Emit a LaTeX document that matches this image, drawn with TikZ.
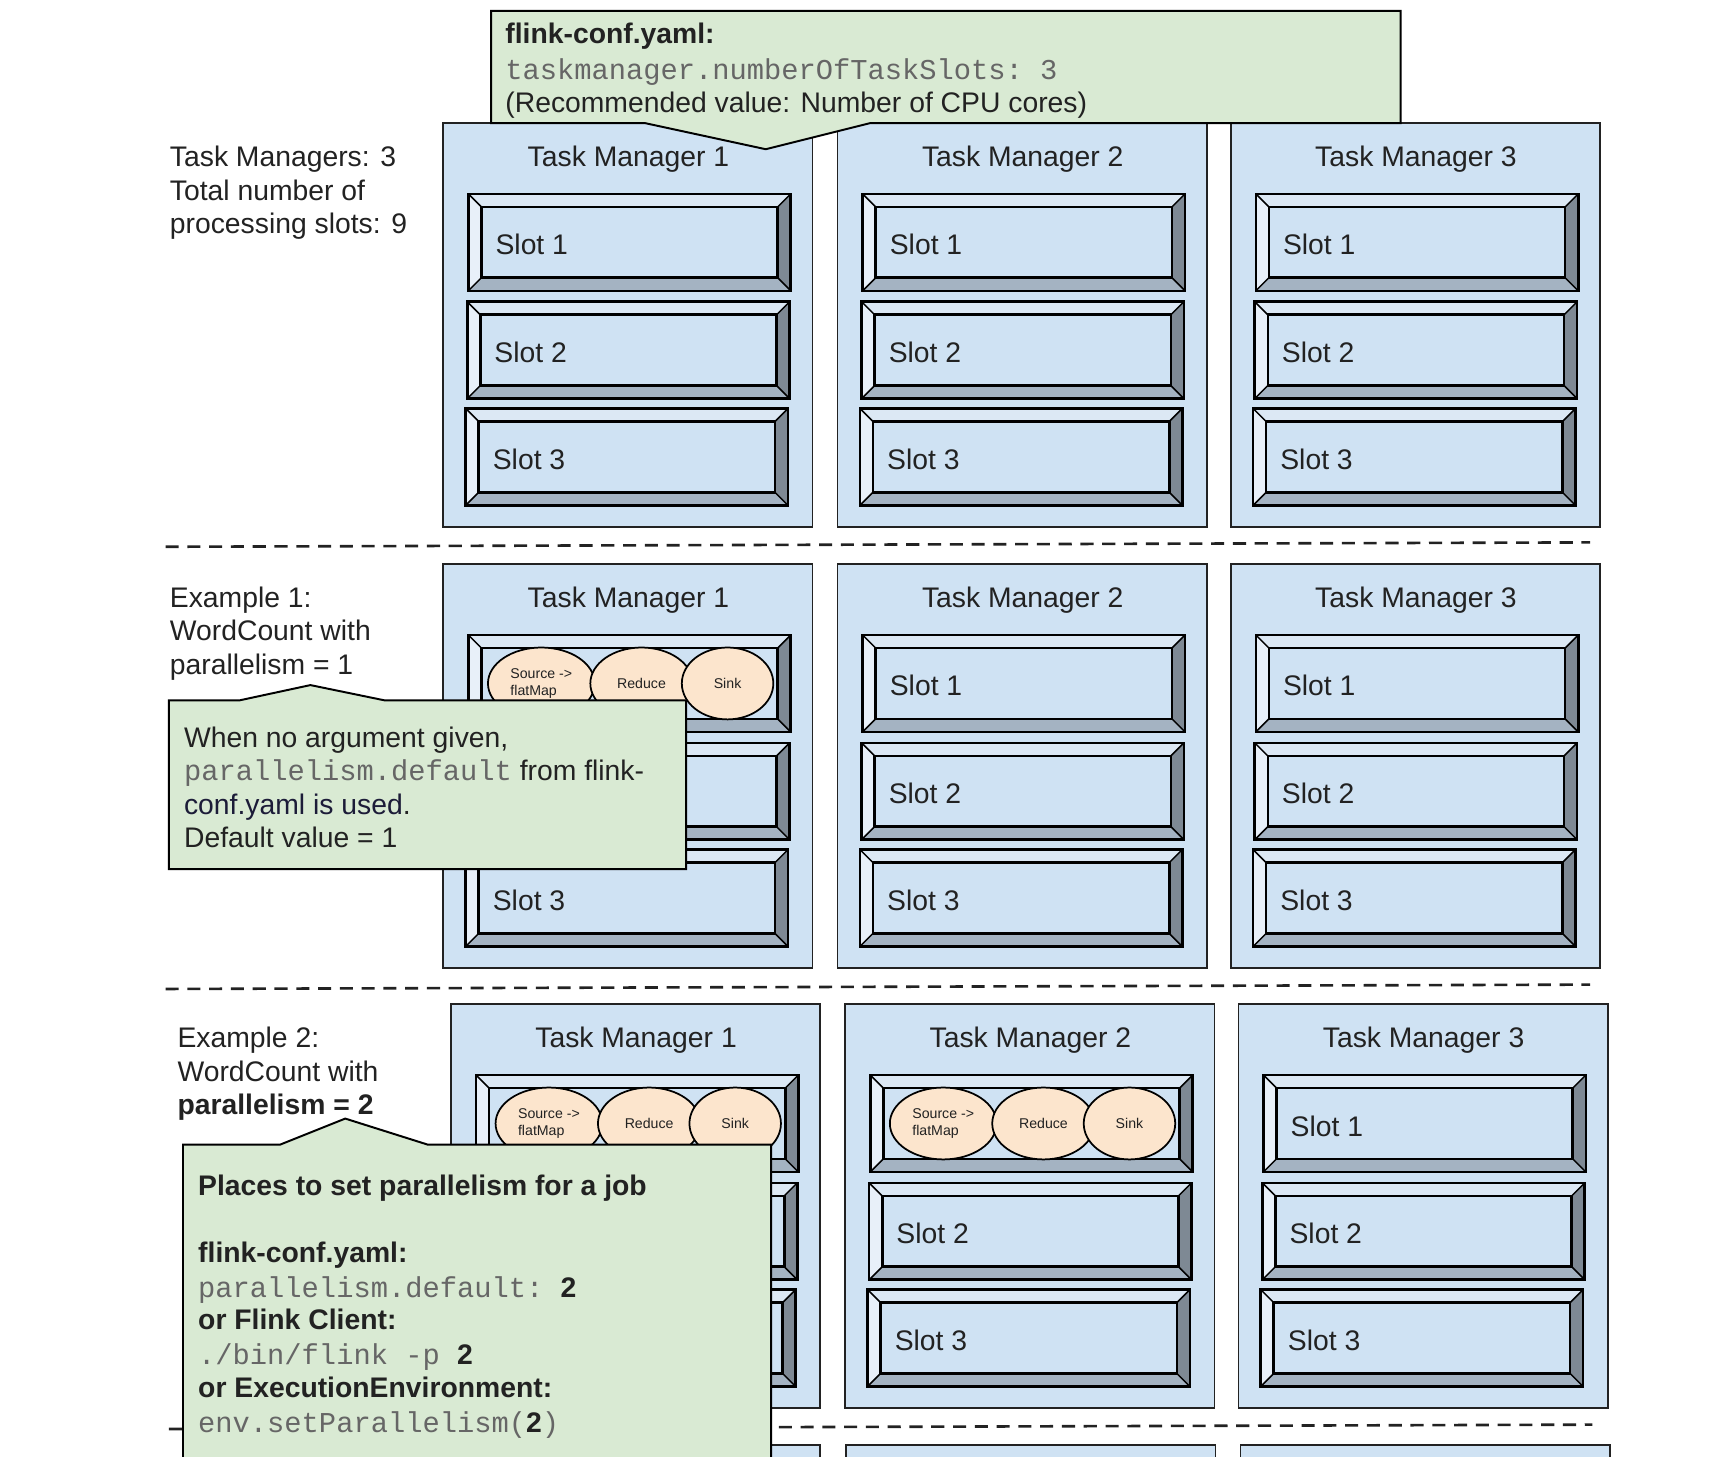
\documentclass[tikz,border=0pt]{standalone}
\usepackage{fontspec}
\setmainfont{Liberation Sans}
\setmonofont{Liberation Mono}
\usetikzlibrary{shapes.geometric}
\definecolor{tmblue}{HTML}{CFE2F3}
\definecolor{notegreen}{HTML}{D9EAD3}
\definecolor{peach}{HTML}{FCE5CD}
\definecolor{bvtop}{HTML}{DCE8F4}
\definecolor{bvleft}{HTML}{E8F0F9}
\definecolor{bvright}{HTML}{7E8994}
\definecolor{bvbot}{HTML}{A4B3C2}
\definecolor{ink}{HTML}{222222}
\definecolor{codegray}{HTML}{666666}
\newcommand{\mainsize}{\fontsize{13}{15.5}\selectfont}
\newcommand{\cod}[1]{{\color{codegray}\ttfamily\fontsize{13.2}{15.5}\selectfont #1}}
\tikzset{
  tmframe/.style={draw=ink, line width=0.8pt, fill=tmblue},
  txt/.style={inner sep=0pt, outer sep=0pt, text=ink, font=\mainsize, anchor=base west},
  hdr/.style={inner sep=0pt, outer sep=0pt, text=ink, font=\mainsize, anchor=base},
  oval/.style={ellipse, draw=black, line width=0.8pt, fill=peach, inner sep=0pt,
    minimum height=33pt, font=\fontsize{6.5}{7.5}\selectfont, text=ink},
  note/.style={draw=black, line width=0.9pt, fill=notegreen},
  sepline/.style={draw=ink, line width=1.2pt, dash pattern=on 6pt off 4pt},
}
% slot: name, left x, top y, label
\newcommand{\slotat}[4]{%
  \begin{scope}[shift={(#2,#3)}]
    \fill[bvtop] (0,0) -- (296,0) -- (284,12) -- (12,12) -- cycle;
    \fill[bvleft] (0,0) -- (12,12) -- (12,77) -- (0,89) -- cycle;
    \fill[bvright] (296,0) -- (296,89) -- (284,77) -- (284,12) -- cycle;
    \fill[bvbot] (0,89) -- (12,77) -- (284,77) -- (296,89) -- cycle;
    \fill[tmblue] (12,12) rectangle (284,77);
    \draw[black, line width=0.7pt] (0,0) -- (12,12) (296,0) -- (284,12)
      (0,89) -- (12,77) (296,89) -- (284,77);
    \draw[black, line width=1.2pt] (0,0) rectangle (296,89);
    \draw[black, line width=1.2pt] (12,12) rectangle (284,77);
    \node[txt] (#1) at (25,56) {#4};
  \end{scope}}
% task manager: name, left x, top y, number
\newcommand{\tmat}[4]{%
  \draw[tmframe] (#2,#3) rectangle ++(339,371);
  \node[hdr] (#1) at ({#2+170},{#3+40}) {Task Manager #4};}
% three slots of a task manager: prefix, left x, top y, label1
\newcommand{\slots}[4]{%
  \slotat{#1s1}{#2+23}{#3+65}{#4}
  \slotat{#1s2}{#2+22}{#3+164}{Slot 2}
  \slotat{#1s3}{#2+20.5}{#3+262}{Slot 3}}
% operators: prefix, slot left x, slot centre y
\newcommand{\ops}[3]{%
  \node[oval, minimum width=49pt, align=left] (#1src) at ({#2+67},#3) {Source ->\\flatMap};
  \node[oval, minimum width=47pt] (#1red) at ({#2+159},#3) {Reduce};
  \node[oval, minimum width=42pt] (#1snk) at ({#2+238},#3) {Sink};}
\begin{document}
\begin{tikzpicture}[x=0.5pt, y=-0.5pt]
\useasboundingbox (0,0) rectangle (1570,1337);
\clip (0,0) rectangle (1570,1337);

% separators
\coordinate (d1a) at (152,502); \coordinate (d1b) at (1460,498);
\coordinate (d2a) at (152,908); \coordinate (d2b) at (1460,904);
\coordinate (d3a) at (155,1312); \coordinate (d3b) at (1462,1308);
\draw[sepline] (d1a) -- (d1b);
\draw[sepline] (d2a) -- (d2b);
\draw[sepline] (d3a) -- (d3b);

% row 1
\foreach \i/\x in {1/407,2/769,3/1130}{
  \tmat{ra\i}{\x}{113}{\i}
  \slots{ra\i}{\x}{113}{Slot 1}
}
\path[note] (451,10) -- (1286,10) -- (1286,113) -- (799,113) -- (703,137)
  -- (592,113) -- (451,113) -- cycle;
\node[txt, font=\mainsize\bfseries] (c0a) at (464,40) {flink-conf.yaml:};
\node[txt] (c0b) at (464,73) {\cod{taskmanager.numberOfTaskSlots: 3}};
\node[txt] (c0c) at (464,103) {(Recommended value: Number of CPU cores)};

\node[txt] (la1) at (156,153) {Task Managers: 3};
\node[txt] (la2) at (156,184) {Total number of};
\node[txt] (la3) at (156,214) {processing slots: 9};

% row 2
\tmat{rb1}{407}{518}{1}
\slots{rb1}{407}{518}{}
\ops{rb1}{430}{627.5}
\foreach \i/\x in {2/769,3/1130}{
  \tmat{rb\i}{\x}{518}{\i}
  \slots{rb\i}{\x}{518}{Slot 1}
}
\node[txt] (lb1) at (156,558) {Example 1:};
\node[txt] (lb2) at (156,588) {WordCount with};
\node[txt] (lb3) at (156,619) {parallelism = 1};
\path[note] (155,643) -- (220,643) -- (285,629) -- (353,643) -- (630,643)
  -- (630,798) -- (155,798) -- cycle;
\node[txt] (c1a) at (169,686) {When no argument given,};
\node[txt] (c1b) at (169,717) {\cod{parallelism.default} from flink-};
\node[txt] (c1c) at (169,748) {{\color[HTML]{1C1C38}conf.yaml is used}.};
\node[txt] (c1d) at (169,778) {Default value = 1};

% row 4 (only tops visible)
\foreach \x in {414,777,1139}{
  \draw[tmframe] (\x,1327) rectangle ++(339,371);
}

% row 3
\tmat{rc1}{414}{922}{1}
\slots{rc1}{414}{922}{}
\ops{rc1}{437}{1031.5}
\tmat{rc2}{776}{922}{2}
\slots{rc2}{776}{922}{}
\ops{rc2}{799}{1031.5}
\tmat{rc3}{1137}{922}{3}
\slots{rc3}{1137}{922}{Slot 1}
\node[txt] (lc1) at (163,962) {Example 2:};
\node[txt] (lc2) at (163,993) {WordCount with};
\node[txt, font=\mainsize\bfseries] (lc3) at (163,1023) {parallelism = 2};
\path[note] (168,1051) -- (257,1051) -- (317,1027) -- (393,1051) -- (708,1051)
  -- (708,1420) -- (168,1420) -- cycle;
\node[txt, font=\mainsize\bfseries] (c2a) at (182,1098) {Places to set parallelism for a job};
\node[txt, font=\mainsize\bfseries] (c2b) at (182,1159) {flink-conf.yaml:};
\node[txt] (c2c) at (182,1191) {\cod{parallelism.default: }\textbf{2}};
\node[txt, font=\mainsize\bfseries] (c2d) at (182,1221) {or Flink Client:};
\node[txt] (c2e) at (182,1253) {\cod{./bin/flink -p }\textbf{2}};
\node[txt, font=\mainsize\bfseries] (c2f) at (182,1283) {or ExecutionEnvironment:};
\node[txt] (c2g) at (182,1315) {\cod{env.setParallelism(}\textbf{2}\cod{)}};
\end{tikzpicture}
\end{document}
